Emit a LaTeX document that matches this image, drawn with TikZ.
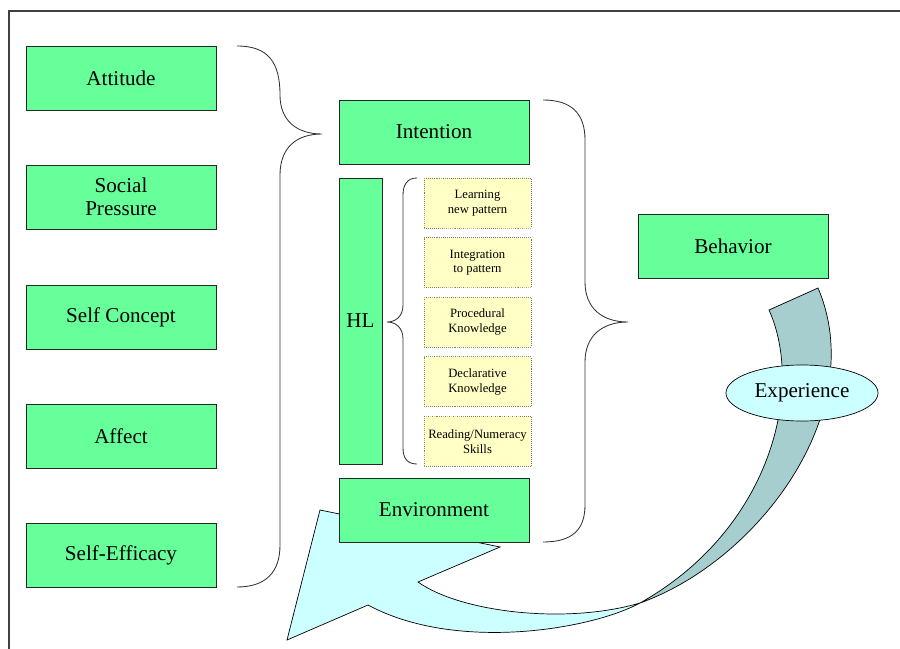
\documentclass[tikz,border=0pt]{standalone}
\usepackage{fontspec}
\setmainfont{Liberation Serif}
\usepackage{xcolor}
\usepackage{tikz}
\usetikzlibrary{shapes,positioning,patterns}

\definecolor{boxgreen}{HTML}{66FF99}
\definecolor{skillyellow}{HTML}{FFFFCC}
\definecolor{expteal}{HTML}{A6CECE}
\definecolor{expcyan}{HTML}{CCFFFF}

\begin{document}
\begin{tikzpicture}[
    x=0.025cm, y=-0.025cm,
    node distance=0.225cm,
    factor/.style={rectangle, draw=black!85, fill=boxgreen, line width=0.6pt, align=center, minimum height=1.6cm, minimum width=4.75cm, inner sep=0pt, font=\fontsize{15}{16}\selectfont},
    hlbox/.style={factor, minimum width=1.075cm, minimum height=7.15cm},
    skill/.style={rectangle, draw=black!55, densely dotted, fill=skillyellow, postaction={pattern=crosshatch, pattern color=yellow!35}, align=center, minimum height=1.25cm, minimum width=2.675cm, inner sep=0pt, font=\fontsize{9}{10.5}\selectfont},
    expnode/.style={ellipse, draw=black, fill=expcyan, line width=0.5pt, minimum width=3.8cm, minimum height=1.4cm, inner sep=0pt, font=\fontsize{15}{16}\selectfont},
    bracket/.style={draw=black!80, line width=0.6pt}
]
    \useasboundingbox (0,0) rectangle (900,649);
    % frame
    \draw [line width=1pt, black!75] (9,649) -- (9,11) -- (900,11);

    % braces
    \draw [bracket] (237,46) .. controls (268,46) and (280,62) .. (280,95)
        .. controls (280,120) and (296,134) .. (322,134)
        .. controls (296,134) and (280,148) .. (280,175) -- (280,545)
        .. controls (280,572) and (266,587) .. (237,587);
    \draw [bracket] (543,100) .. controls (572,100) and (585,114) .. (585,140) -- (585,282)
        .. controls (585,308) and (602,322) .. (628,322)
        .. controls (602,322) and (585,336) .. (585,362) -- (585,505)
        .. controls (585,530) and (572,542) .. (543,542);
    \draw [bracket] (417,178) .. controls (408,178) and (403,184) .. (403,195) -- (403,305)
        .. controls (403,316) and (396,322) .. (387,322)
        .. controls (396,322) and (403,328) .. (403,339) -- (403,448)
        .. controls (403,459) and (408,464) .. (417,464);

    % experience arrow
    \filldraw [fill=expcyan, draw=black, line width=0.5pt] (287,640) -- (320,510) -- (500,547) -- (418,582)
        .. controls (460,612) and (565,625) .. (640,603)
        .. controls (590,630) and (455,652) .. (368,605) -- cycle;
    \filldraw [fill=expteal, draw=black, line width=0.5pt] (769,310) -- (818,288)
        .. controls (870,410) and (760,560) .. (640,603)
        .. controls (770,530) and (805,390) .. (769,310) -- cycle;

    % factors
    \node [factor] (att) at (121,78) {Attitude};
    \node [factor] (soc) at (121,197) {Social\\Pressure};
    \node [factor] (selfc) at (121,317) {Self Concept};
    \node [factor] (aff) at (121,436) {Affect};
    \node [factor] (eff) at (121,555) {Self-Efficacy};

    \node [factor] (intent) at (434,132) {Intention};
    \node [hlbox] (hl) at (360.5,321) {HL};
    \node [factor] (env) at (434,510) {Environment};
    \node [factor] (beh) at (733,246) {Behavior};

    \node [skill] (s1) at (477.5,203) {Learning\\new pattern};
    \node [skill, below=of s1] (s2) {Integration\\to pattern};
    \node [skill, below=of s2] (s3) {Procedural\\Knowledge};
    \node [skill, below=of s3] (s4) {Declarative\\Knowledge};
    \node [skill, below=of s4] (s5) {Reading/Numeracy\\Skills};

    \node [expnode] (exp) at (802,393) {Experience};
\end{tikzpicture}
\end{document}
